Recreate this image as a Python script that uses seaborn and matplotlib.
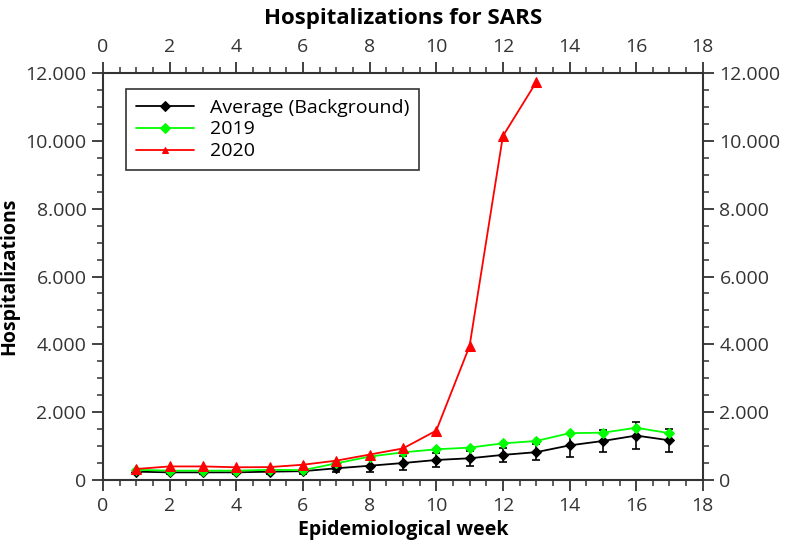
import matplotlib
matplotlib.use("Agg")
import matplotlib.pyplot as plt
import seaborn as sns
import pandas as pd
import numpy as np
from matplotlib.ticker import MultipleLocator, FuncFormatter

weeks = list(range(1, 18))
avg_background = [245, 225, 225, 225, 245, 260, 345, 420, 500, 590, 640, 740, 820, 1020, 1150, 1310, 1170]
avg_err = [60, 60, 60, 60, 60, 70, 100, 170, 210, 210, 220, 200, 235, 340, 325, 390, 340]
y2019 = [300, 275, 275, 275, 300, 290, 490, 690, 815, 905, 955, 1080, 1150, 1380, 1395, 1540, 1380]
weeks_2020 = list(range(1, 14))
y2020 = [325, 400, 400, 375, 380, 450, 570, 750, 930, 1455, 3950, 10140, 11730]

sns.set_theme(style="ticks")
plt.rcParams['font.family'] = ['Open Sans', 'DejaVu Sans']

fig, ax = plt.subplots(figsize=(7.87, 5.49), dpi=100)
fig.subplots_adjust(left=0.131, right=0.893, bottom=0.1257, top=0.867)

df_avg = pd.DataFrame({"week": weeks, "value": avg_background})
df_19 = pd.DataFrame({"week": weeks, "value": y2019})
df_20 = pd.DataFrame({"week": weeks_2020, "value": y2020})

ax.errorbar(weeks, avg_background, yerr=avg_err, fmt='none', ecolor='black',
            elinewidth=1.2, capsize=3, capthick=1.2, zorder=2)
sns.lineplot(data=df_avg, x="week", y="value", ax=ax, color="black", marker="D",
             markersize=5, markeredgecolor="black", linewidth=1.3,
             label="Average (Background)", zorder=3)
sns.lineplot(data=df_19, x="week", y="value", ax=ax, color="#00ff00", marker="D",
             markersize=5, markeredgecolor="#00ff00", linewidth=1.3, label="2019", zorder=4)
sns.lineplot(data=df_20, x="week", y="value", ax=ax, color="#ff0000", marker="^",
             markersize=6.5, markeredgecolor="#ff0000", linewidth=1.3, label="2020", zorder=5)

ax.set_xlim(0, 18)
ax.set_ylim(0, 12000)
ax.xaxis.set_major_locator(MultipleLocator(2))
ax.xaxis.set_minor_locator(MultipleLocator(0.5))
ax.yaxis.set_major_locator(MultipleLocator(2000))
ax.yaxis.set_minor_locator(MultipleLocator(500))
ax.yaxis.set_major_formatter(FuncFormatter(lambda v, p: f"{int(v):,}".replace(",", ".")))

for s in ax.spines.values():
    s.set_visible(True)
    s.set_color("#333333")
    s.set_linewidth(1.5)

ax.tick_params(axis='both', which='major', direction='out', length=8, width=1.3,
               color="#333333", labelsize=14, labelcolor="#333333", pad=4,
               top=True, right=True, labeltop=True, labelright=True)
ax.tick_params(axis='both', which='minor', direction='out', length=4, width=1.1,
               color="#333333", top=True, right=True)

ax.set_xlabel("Epidemiological week", fontsize=14, fontweight="bold", labelpad=4, color="black")
ax.set_ylabel("Hospitalizations", fontsize=14, fontweight="bold", labelpad=4, color="black")
ax.set_title("Hospitalizations for SARS", fontsize=16, fontweight="bold", pad=10, color="black")

leg = ax.legend(loc="upper left", bbox_to_anchor=(0.022, 0.985), fontsize=14,
                frameon=True, fancybox=False, edgecolor="#333333", framealpha=1,
                handlelength=3.0, borderpad=0.5, labelspacing=0.2)
leg.get_frame().set_linewidth(1.2)
for h in leg.legend_handles:
    h.set_markersize(5)
for t in leg.get_texts():
    t.set_color("black")

fig.savefig("out.png", dpi=100)
